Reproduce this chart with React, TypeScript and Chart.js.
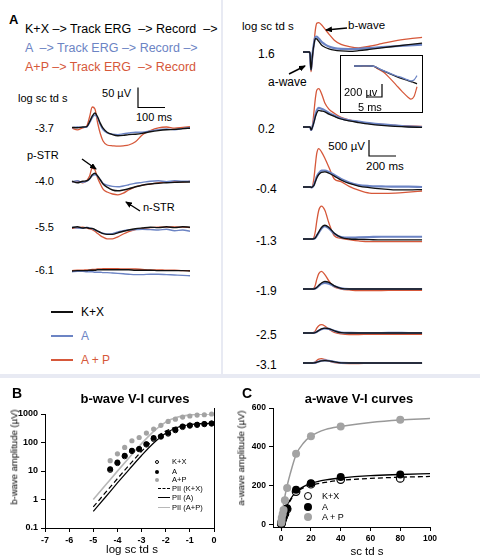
import React, { useEffect, useRef } from "react";
import { Chart, registerables } from "chart.js";

Chart.register(...registerables);

const FONT = '"Liberation Sans", Arial, Helvetica, sans-serif';
Chart.defaults.font.family = FONT;
Chart.defaults.color = "#000";

const COL_KX = "#111111";
const COL_A = "#6c84c4";
const COL_AP = "#d6583a";
const COL_GRAY = "#a3a3a3";
const COL_GRAY_LINE = "#b8b8b8";

// ---------------- Panel A, left column (dim flashes) ----------------
const T_LEFT = [0, 20, 40, 55, 65, 75, 85, 95, 105, 115, 130, 150, 170, 190, 210, 235, 260, 290, 320, 350, 380, 410, 437];
const LEFT_LABELS = ["-3.7", "-4.0", "-5.5", "-6.1"];
const L37_KX = [4, 3, 5, 6, 18, 32, 40, 30, 14, 2, -8, -14, -17, -16, -14, -13, -11, -7, -4, -2, -1, 1, 2];
const L37_A = [3, 5, 4, 5, 15, 28, 35, 27, 10, -2, -10, -13, -14, -12, -10, -8, -8, -5, -2, 0, -2, 1, 3];
const L37_AP = [2, -2, 3, 8, 30, 55, 50, 15, -12, -30, -40, -42, -43, -42, -40, -32, -15, -4, 3, 5, 2, 4, 6];
const L40_KX = [2, -2, 2, 3, 8, 18, 22, 15, 5, -5, -13, -20, -22, -20, -17, -12, -8, -5, -3, -2, -1, 0, 0];
const L40_A = [0, 3, -1, 2, 7, 15, 18, 14, 6, -3, -8, -11, -12, -10, -7, -3, -1, 2, 3, 1, 3, 2, 2];
const L40_AP = [0, 2, -2, 4, 15, 35, 30, 10, -5, -18, -25, -30, -32, -28, -20, -12, -8, -5, -2, 0, 1, 0, 2];
const L55_KX = [1, 3, 0, 1, -1, -1, -4, -8, -11, -14, -16, -16, -12, -8, -5, -2, 0, 2, 1, 3, 1, 3, 2];
const L55_A = [2, 0, -1, 2, 0, -2, -5, -8, -11, -13, -15, -14, -10, -7, -5, -4, -3, -4, -5, -3, -7, -5, -8];
const L55_AP = [-1, 1, 2, 0, -2, -4, -8, -14, -19, -23, -27, -27, -22, -15, -9, -4, -1, 1, 2, 2, 3, 2, 1];
const L61_KX = [0, 1, 1, 1, 2, 2, 2, 3, 3, 3, 3, 3, 3, 3, 3, 2, 2, 2, 1, 1, 1, 1, 0];
const L61_A = [-2, -1, -1, -2, -2, -2, -3, -3, -3, -4, -4, -5, -6, -7, -8, -9, -9, -8, -8, -9, -10, -11, -12];
const L61_AP = [1, 2, 2, 3, 3, 4, 4, 5, 5, 6, 6, 6, 6, 5, 5, 5, 4, 3, 3, 2, 2, 1, 1];

// ---------------- Panel A, right column (bright flashes) ----------------
const T_RIGHT = [-52, -5, 0, 5, 8, 12, 20, 30, 40, 50, 65, 85, 110, 140, 180, 230, 290, 360, 440, 530, 630, 730, 830];
const RIGHT_LABELS = ["1.6", "0.2", "-0.4", "-1.3", "-1.9", "-2.5", "-3.1"];
const R16_KX = [0, 0, -50, -450, -560, -400, -50, 250, 420, 410, 330, 220, 150, 100, 60, 35, 20, 40, 80, 130, 180, 230, 280];
const R16_A = [0, 0, -50, -430, -540, -380, -20, 280, 470, 480, 420, 320, 240, 170, 120, 95, 90, 100, 120, 150, 180, 205, 230];
const R16_AP = [0, 0, -60, -480, -615, -450, -100, 300, 700, 900, 920, 850, 720, 560, 370, 240, 170, 130, 180, 260, 350, 410, 455];
const R02_KX = [0, 0, 0, -50, -90, -70, 20, 160, 320, 440, 520, 500, 470, 400, 330, 250, 190, 140, 90, 50, 20, 0, -10];
const R02_A = [0, 0, 0, -50, -90, -70, 30, 200, 380, 520, 600, 570, 520, 440, 360, 270, 210, 170, 120, 80, 50, 20, 0];
const R02_AP = [0, 0, 0, -60, -100, -80, 100, 500, 900, 1150, 1200, 1050, 750, 560, 430, 300, 220, 160, 115, 80, 50, 35, 20];
const R04_KX = [0, 0, 0, 0, -10, -10, 10, 60, 170, 280, 390, 460, 470, 430, 340, 220, 110, 30, -20, -60, -90, -90, -80];
const R04_A = [0, 0, 0, 0, -10, -10, 10, 80, 200, 320, 430, 510, 510, 470, 380, 250, 140, 60, 30, 20, 10, 10, 0];
const R04_AP = [0, 0, 0, 0, -20, -20, 50, 300, 700, 1050, 1200, 1100, 900, 620, 250, 170, 20, -100, -190, -200, -190, -160, -125];
const R13_KX = [0, 0, 0, 0, 0, 0, 0, 10, 40, 110, 220, 360, 430, 360, 180, 50, 0, -10, -20, -30, -30, -30, -30];
const R13_A = [0, 0, 0, 0, 0, 0, 0, 10, 40, 100, 200, 330, 400, 330, 170, 60, 40, 50, 60, 70, 70, 70, 70];
const R13_AP = [0, 0, 0, 0, 0, 0, 0, 60, 250, 550, 900, 1030, 900, 500, 100, 20, -20, -60, -85, -85, -85, -85, -85];
const R19_KX = [0, 0, 0, 0, 0, 0, 0, 5, 20, 50, 110, 190, 235, 210, 100, 20, 0, 0, 0, 0, 0, 0, 0];
const R19_A = [0, 0, 0, 0, 0, 0, 0, 5, 15, 40, 95, 160, 190, 165, 90, 20, 0, 0, 0, 0, 0, 0, 0];
const R19_AP = [0, 0, 0, 0, 0, 0, 0, 30, 130, 300, 480, 550, 450, 250, 60, 0, -30, -50, -50, -50, -40, -40, -40];
const R25_KX = [0, 0, 0, 0, 0, 0, 0, 5, 15, 40, 80, 130, 155, 140, 70, 10, 0, 0, 0, 0, 0, 0, 0];
const R25_A = [0, 0, 0, 0, 0, 0, 0, 5, 15, 35, 75, 120, 140, 130, 70, 15, 5, 0, 0, 0, 5, 0, 0];
const R25_AP = [0, 0, 0, 0, 0, 0, 0, 20, 70, 150, 230, 260, 220, 120, 20, -30, -50, -50, -40, -40, -40, -40, -40];
const R31_KX = [0, 0, 0, 0, 0, 0, 0, 3, 10, 25, 45, 65, 75, 65, 35, 5, 0, 0, 0, 0, 0, 0, 0];
const R31_A = [0, 0, 0, 0, 0, 0, 0, 3, 10, 25, 45, 70, 80, 70, 35, 5, 0, 0, 0, 0, 0, 0, 0];
const R31_AP = [0, 0, 0, 0, 0, 0, 0, 10, 40, 80, 120, 135, 110, 60, 10, -10, -15, -15, -10, -10, -10, -10, -10];

// ---------------- Inset (a-wave leading edge, ms / µV) ----------------
const T_INSET = [-6, -4, -2, 0, 1, 2, 4, 6, 8, 10, 12, 13, 14, 15];
const IN_KX = [0, 0, 2, 0, -10, -35, -80, -120, -160, -195, -225, -240, -255, -275];
const IN_A = [0, 0, 1, 0, -10, -33, -75, -115, -150, -180, -215, -230, -215, -150];
const IN_AP = [0, 0, 2, 0, -15, -45, -100, -190, -290, -390, -480, -510, -470, -320];

// ---------------- Panel B (b-wave V-I) ----------------
const B_X = [-4.3, -4.0, -3.7, -3.4, -3.1, -2.8, -2.5, -2.2, -1.9, -1.6, -1.3, -1.0, -0.7, -0.4, -0.1];
const B_KX = [11, 19, 33, 50, 58, 85, 135, 160, 205, 270, 350, 390, 415, 440, 460];
const B_A = [11.7, 20, 35, 52, 60, 88, 145, 165, 215, 280, 370, 400, 425, 450, 470];
const B_AP = [23, 40, 67, 115, 150, 215, 295, 400, 550, 660, 780, 850, 920, 940, 1000];
const B_FIT_X = [-5, -4.5, -4, -3.5, -3, -2.5, -2, -1.5, -1, -0.5, 0];
const B_FIT_KX = [0.55, 1.73, 5.4, 16.5, 49, 126, 251, 363, 425, 450, 456];
const B_FIT_A = [0.38, 1.2, 3.8, 11.7, 35, 96, 213, 343, 426, 462, 474];
const B_FIT_AP = [1.0, 3.15, 9.9, 30.5, 91, 245, 520, 780, 920, 980, 1000];
const B_X_TICKS = [-7, -6, -5, -4, -3, -2, -1, 0];
const B_Y_TICKS = [0.1, 1, 10, 100, 1000];

// ---------------- Panel C (a-wave V-I) ----------------
const C_X = [0.1, 0.25, 0.4, 1, 1.6, 2.5, 4, 10, 20, 40, 80];
const C_KX = [4, 8, 13, 27, 40, 55, 80, 170, 208, 232, 238];
const C_A = [5, 10, 15, 30, 45, 60, 85, 180, 213, 245, 258];
const C_AP = [10, 20, 35, 55, 75, 125, 188, 365, 455, 505, 540];
const C_FIT_X = [0, 1, 2, 4, 6, 10, 15, 20, 30, 40, 60, 80, 100];
const C_FIT_KX = [0, 33, 58, 95, 122, 165, 190, 203, 218, 228, 238, 244, 248];
const C_FIT_A = [0, 35, 62, 100, 128, 170, 196, 212, 230, 240, 252, 258, 263];
const C_FIT_AP = [0, 70, 125, 200, 260, 360, 420, 455, 490, 505, 525, 538, 546];
const C_X_TICKS = [0, 20, 40, 60, 80, 100];
const C_Y_TICKS = [0, 200, 400, 600];

// ---------------- layout (pixels) ----------------
type Box = { left: number; top: number; width: number; height: number; x0px: number; y0px: number; pxPerMs: number; uvPerPx: number };
const LEFT_BOX: Box = { left: 62, top: 80, width: 138, height: 210, x0px: 72, y0px: 290, pxPerMs: 0.27, uvPerPx: 2.5 };
const LEFT_ROW_Y = [129, 182, 228, 271];
const RIGHT_BOX: Box = { left: 295, top: 10, width: 135, height: 365, x0px: 310, y0px: 375, pxPerMs: 0.135, uvPerPx: 31.25 };
const RIGHT_ROW_Y = [52, 127, 187, 239, 289, 333, 363];
const INSET_BOX: Box = { left: 341, top: 56, width: 81, height: 56, x0px: 372, y0px: 66, pxPerMs: 3, uvPerPx: 15.4 };

const toX = (b: Box, px: number) => (px - b.x0px) / b.pxPerMs;
const toY = (b: Box, py: number) => (b.y0px - py) * b.uvPerPx;

const baseOptions: any = {
  responsive: false,
  maintainAspectRatio: false,
  animation: false,
  events: [],
  plugins: { legend: { display: false }, tooltip: { enabled: false }, title: { display: false } },
};

type Row = { kx: number[]; a: number[]; ap: number[] };
type Bar = { ax: number; ay: number; uv: number; ms: number; dir: number };

function traceConfig(
  box: Box,
  t: number[],
  rows: Row[],
  rowY: number[] | null,
  order: Record<string, number>,
  bar: Bar | null,
  widths: Record<string, number>
) {
  const datasets: any[] = [];
  const series = [
    { key: "ap", color: COL_AP },
    { key: "a", color: COL_A },
    { key: "kx", color: COL_KX },
  ];
  rows.forEach((row: any, r) => {
    const off = rowY ? toY(box, rowY[r]) : 0;
    series.forEach((s) => {
      datasets.push({
        data: t.map((tt, i) => ({ x: tt, y: row[s.key][i] + off })),
        borderColor: s.color,
        borderWidth: widths[s.key],
        pointRadius: 0,
        cubicInterpolationMode: "monotone",
        fill: false,
        order: order[s.key],
      });
    });
  });
  if (bar) {
    const x = toX(box, bar.ax);
    const y = toY(box, bar.ay);
    datasets.push({
      data: [
        { x, y: y + bar.uv },
        { x, y },
        { x: x + bar.dir * bar.ms, y },
      ],
      borderColor: "#000",
      borderWidth: 1.2,
      pointRadius: 0,
      tension: 0,
      fill: false,
      order: -1,
    });
  }
  return {
    type: "line",
    data: { datasets },
    options: {
      ...baseOptions,
      layout: { padding: 0 },
      scales: {
        x: { type: "linear", display: false, min: toX(box, box.left), max: toX(box, box.left + box.width) },
        y: { type: "linear", display: false, min: toY(box, box.top + box.height), max: toY(box, box.top) },
      },
    },
  };
}

function axis(ticksArr: number[], fontSize: number, fit: (s: any) => void) {
  return {
    afterBuildTicks: (s: any) => {
      s.ticks = ticksArr.map((v) => ({ value: v }));
    },
    afterFit: fit,
    ticks: {
      font: { family: FONT, size: fontSize, weight: "bold" },
      color: "#000",
      padding: 3,
      autoSkip: false,
      maxRotation: 0,
      callback: (v: any) => String(v),
    },
    grid: { drawOnChartArea: false, drawTicks: true, tickLength: 4, color: "#000", lineWidth: 1 },
    border: { display: true, color: "#000", width: 1 },
  };
}

const rightBorder = {
  id: "rightBorder",
  afterDraw(chart: any) {
    const { ctx, chartArea: a } = chart;
    ctx.save();
    ctx.strokeStyle = "#000";
    ctx.lineWidth = 1;
    ctx.beginPath();
    ctx.moveTo(Math.round(a.right) + 0.5, a.top - 6);
    ctx.lineTo(Math.round(a.right) + 0.5, a.bottom);
    ctx.stroke();
    ctx.restore();
  },
};

const pts = (xs: number[], ys: number[]) => xs.map((x, i) => ({ x, y: ys[i] }));

function bConfig() {
  return {
    type: "scatter",
    data: {
      datasets: [
        { data: pts(B_X, B_AP), pointRadius: 2.6, backgroundColor: COL_GRAY, borderColor: COL_GRAY, pointBorderWidth: 0, order: 0, clip: false },
        { data: pts(B_X, B_A), pointRadius: 2.8, backgroundColor: "#000", borderColor: "#000", pointBorderWidth: 0, order: 1, clip: false },
        { data: pts(B_X, B_KX), pointRadius: 2.6, backgroundColor: "#fff", borderColor: "#000", pointBorderWidth: 1, order: 2, clip: false },
        { data: pts(B_FIT_X, B_FIT_AP), showLine: true, pointRadius: 0, borderColor: COL_GRAY_LINE, borderWidth: 1.6, cubicInterpolationMode: "monotone", order: 3 },
        { data: pts(B_FIT_X, B_FIT_A), showLine: true, pointRadius: 0, borderColor: "#000", borderWidth: 1.2, cubicInterpolationMode: "monotone", order: 4 },
        { data: pts(B_FIT_X, B_FIT_KX), showLine: true, pointRadius: 0, borderColor: "#000", borderWidth: 1.2, borderDash: [5, 3], cubicInterpolationMode: "monotone", order: 5 },
      ],
    },
    options: {
      ...baseOptions,
      layout: { padding: { left: 0, top: 14, right: 6, bottom: 0 } },
      scales: {
        x: { type: "linear", min: -7, max: 0, ...axis(B_X_TICKS, 9, (s: any) => { s.height = 31; }) },
        y: { type: "logarithmic", min: 0.1, max: 1000, ...axis(B_Y_TICKS, 9, (s: any) => { s.width = 45; }) },
      },
    },
    plugins: [rightBorder],
  };
}

function cConfig() {
  return {
    type: "scatter",
    data: {
      datasets: [
        { data: pts(C_X, C_AP), pointRadius: 4, backgroundColor: COL_GRAY, borderColor: COL_GRAY, pointBorderWidth: 0, order: 0, clip: false },
        { data: pts(C_X, C_A), pointRadius: 4, backgroundColor: "#000", borderColor: "#000", pointBorderWidth: 0, order: 1, clip: false },
        { data: pts(C_X, C_KX), pointRadius: 3.8, backgroundColor: "#fff", borderColor: "#000", pointBorderWidth: 1.2, order: 2, clip: false },
        { data: pts(C_FIT_X, C_FIT_AP), showLine: true, pointRadius: 0, borderColor: "#999", borderWidth: 1.5, cubicInterpolationMode: "monotone", order: 3 },
        { data: pts(C_FIT_X, C_FIT_A), showLine: true, pointRadius: 0, borderColor: "#000", borderWidth: 1.3, cubicInterpolationMode: "monotone", order: 4 },
        { data: pts(C_FIT_X, C_FIT_KX), showLine: true, pointRadius: 0, borderColor: "#000", borderWidth: 1.3, borderDash: [5, 3], cubicInterpolationMode: "monotone", order: 5 },
      ],
    },
    options: {
      ...baseOptions,
      layout: { padding: { left: 0, top: 13, right: 50, bottom: 0 } },
      scales: {
        x: { type: "linear", min: -5.5, max: 100, ...axis(C_X_TICKS, 8.5, (s: any) => { s.height = 32; }) },
        y: { type: "linear", min: -12, max: 600, ...axis(C_Y_TICKS, 8.5, (s: any) => { s.width = 43; }) },
      },
    },
  };
}

function ChartCanvas({ left, top, width, height, make }: { left: number; top: number; width: number; height: number; make: () => any }) {
  const ref = useRef<HTMLCanvasElement>(null);
  useEffect(() => {
    const chart = new Chart(ref.current as HTMLCanvasElement, make());
    return () => chart.destroy();
  }, []);
  return <canvas ref={ref} width={width} height={height} style={{ position: "absolute", left, top, width, height }} />;
}

function Txt({ x, y, children, size = 11, color = "#000", bold = false, align = "left", rotate = false }: any) {
  const tx = align === "center" ? "-50%" : align === "right" ? "-100%" : "0";
  return (
    <div
      style={{
        position: "absolute",
        left: x,
        top: y,
        transform: rotate ? "translate(-50%,-50%) rotate(-90deg)" : `translate(${tx},-50%)`,
        fontFamily: FONT,
        fontSize: size,
        fontWeight: bold ? "bold" : "normal",
        color,
        whiteSpace: "pre",
        lineHeight: 1,
      }}
    >
      {children}
    </div>
  );
}

const LEFT_ROWS: Row[] = [
  { kx: L37_KX, a: L37_A, ap: L37_AP },
  { kx: L40_KX, a: L40_A, ap: L40_AP },
  { kx: L55_KX, a: L55_A, ap: L55_AP },
  { kx: L61_KX, a: L61_A, ap: L61_AP },
];
const RIGHT_ROWS: Row[] = [
  { kx: R16_KX, a: R16_A, ap: R16_AP },
  { kx: R02_KX, a: R02_A, ap: R02_AP },
  { kx: R04_KX, a: R04_A, ap: R04_AP },
  { kx: R13_KX, a: R13_A, ap: R13_AP },
  { kx: R19_KX, a: R19_A, ap: R19_AP },
  { kx: R25_KX, a: R25_A, ap: R25_AP },
  { kx: R31_KX, a: R31_A, ap: R31_AP },
];

const ARROWS = [
  { x1: 82, y1: 159, x2: 96, y2: 169 },
  { x1: 140, y1: 211, x2: 126, y2: 202 },
  { x1: 347, y1: 28, x2: 326, y2: 30 },
  { x1: 289, y1: 74, x2: 305, y2: 66 },
];

export default function App() {
  return (
    <div style={{ position: "absolute", left: 0, top: 0, width: 480, height: 559, background: "#fff", overflow: "hidden" }}>
      {/* dividers */}
      <div style={{ position: "absolute", left: 221, top: 0, width: 2, height: 374, background: "#e8eaf3" }} />
      <div style={{ position: "absolute", left: 0, top: 374, width: 480, height: 4, background: "#e8eaf3" }} />

      {/* Panel A left */}
      <Txt x={9} y={19} size={13} bold>A</Txt>
      <Txt x={25} y={29} size={12.5}>{"K+X –> Track ERG  –> Record  –>"}</Txt>
      <Txt x={25} y={48} size={12.5} color={COL_A}>{"A  –> Track ERG –> Record –>"}</Txt>
      <Txt x={25} y={67} size={12.5} color={COL_AP}>{"A+P –> Track ERG  –> Record"}</Txt>
      <Txt x={18} y={98} size={11}>log sc td s</Txt>
      <Txt x={131} y={93} size={11} align="right">50 µV</Txt>
      <Txt x={136} y={117} size={11}>100 ms</Txt>
      {LEFT_LABELS.map((l, i) => (
        <Txt key={l} x={35} y={LEFT_ROW_Y[i] - 1} size={11}>{l}</Txt>
      ))}
      <Txt x={27} y={155} size={11}>p-STR</Txt>
      <Txt x={143} y={207} size={11}>n-STR</Txt>
      <ChartCanvas
        left={LEFT_BOX.left}
        top={LEFT_BOX.top}
        width={LEFT_BOX.width}
        height={LEFT_BOX.height}
        make={() =>
          traceConfig(LEFT_BOX, T_LEFT, LEFT_ROWS, LEFT_ROW_Y, { kx: 0, a: 1, ap: 2 }, { ax: 138, ay: 107.5, uv: 50, ms: 100, dir: 1 }, { kx: 1.4, a: 1.4, ap: 1.3 })
        }
      />
      {[
        { c: COL_KX, t: "K+X", y: 312 },
        { c: COL_A, t: "A", y: 336 },
        { c: COL_AP, t: "A + P", y: 360 },
      ].map((l) => (
        <React.Fragment key={l.t}>
          <div style={{ position: "absolute", left: 51, top: l.y - 1, width: 22, height: 2, background: l.c }} />
          <Txt x={81} y={l.y} size={12} color={l.c === COL_KX ? "#000" : l.c}>{l.t}</Txt>
        </React.Fragment>
      ))}

      {/* Panel A right */}
      <Txt x={242} y={27} size={11.5}>log sc td s</Txt>
      <Txt x={348} y={26} size={11.5}>b-wave</Txt>
      <Txt x={268} y={82} size={12}>a-wave</Txt>
      {RIGHT_LABELS.map((l, i) => (
        <Txt key={l} x={l.startsWith("-") ? 256 : 258} y={RIGHT_ROW_Y[i] + 2} size={12}>{l}</Txt>
      ))}
      <Txt x={365} y={147} size={11.5} align="right">500 µV</Txt>
      <Txt x={366} y={167} size={11.5}>200 ms</Txt>
      <ChartCanvas
        left={RIGHT_BOX.left}
        top={RIGHT_BOX.top}
        width={RIGHT_BOX.width}
        height={RIGHT_BOX.height}
        make={() =>
          traceConfig(RIGHT_BOX, T_RIGHT, RIGHT_ROWS, RIGHT_ROW_Y, { kx: 0, a: 1, ap: 2 }, { ax: 369, ay: 156, uv: 500, ms: 200, dir: 1 }, { kx: 1.3, a: 2.2, ap: 1.3 })
        }
      />
      <div style={{ position: "absolute", left: 340, top: 55, width: 81, height: 56, border: "1px solid #000", background: "#fff" }} />
      <ChartCanvas
        left={INSET_BOX.left}
        top={INSET_BOX.top}
        width={INSET_BOX.width}
        height={INSET_BOX.height}
        make={() =>
          traceConfig(INSET_BOX, T_INSET, [{ kx: IN_KX, a: IN_A, ap: IN_AP }], null, { kx: 1, a: 0, ap: 2 }, { ax: 382, ay: 97, uv: 200, ms: 5, dir: -1 }, { kx: 1.3, a: 1.3, ap: 1.2 })
        }
      />
      <Txt x={344} y={92} size={11}>200 µv</Txt>
      <Txt x={358} y={107} size={11}>5 ms</Txt>

      {/* arrows */}
      <svg width={480} height={559} style={{ position: "absolute", left: 0, top: 0, pointerEvents: "none" }}>
        <defs>
          <marker id="ah" markerWidth="7" markerHeight="6" refX="6" refY="3" orient="auto" markerUnits="userSpaceOnUse">
            <path d="M0,0 L7,3 L0,6 z" fill="#000" />
          </marker>
        </defs>
        {ARROWS.map((a, i) => (
          <line key={i} x1={a.x1} y1={a.y1} x2={a.x2} y2={a.y2} stroke="#000" strokeWidth={1.4} markerEnd="url(#ah)" />
        ))}
      </svg>

      {/* Panel B */}
      <Txt x={12} y={393} size={14} bold>B</Txt>
      <Txt x={135} y={398} size={13} bold align="center">b-wave V-I curves</Txt>
      <ChartCanvas left={0} top={400} width={220} height={159} make={bConfig} />
      <Txt x={14} y={457} size={9.5} rotate>b-wave amplitude (µV)</Txt>
      <Txt x={132} y={550} size={11.5} align="center">log sc td s</Txt>
      {[
        { y: 462, t: "K+X", m: "open" },
        { y: 472, t: "A", m: "black" },
        { y: 480, t: "A+P", m: "gray" },
      ].map((l) => (
        <React.Fragment key={l.t}>
          <div
            style={{
              position: "absolute",
              left: 155,
              top: l.y - 2,
              width: 4,
              height: 4,
              borderRadius: "50%",
              boxSizing: "border-box",
              background: l.m === "open" ? "#fff" : l.m === "black" ? "#000" : COL_GRAY,
              border: l.m === "open" ? "1px solid #000" : "none",
            }}
          />
          <Txt x={172} y={l.y} size={7.5}>{l.t}</Txt>
        </React.Fragment>
      ))}
      {[
        { y: 489, t: "PII (K+X)", s: "dashed", c: "#000" },
        { y: 498, t: "PII (A)", s: "solid", c: "#000" },
        { y: 508, t: "PII (A+P)", s: "solid", c: COL_GRAY_LINE },
      ].map((l) => (
        <React.Fragment key={l.t}>
          <div style={{ position: "absolute", left: 158, top: l.y - 1, width: 12, height: 0, borderTop: `1.5px ${l.s} ${l.c}` }} />
          <Txt x={172} y={l.y} size={7.5}>{l.t}</Txt>
        </React.Fragment>
      ))}

      {/* Panel C */}
      <Txt x={242} y={393} size={14} bold>C</Txt>
      <Txt x={359} y={398} size={13} bold align="center">a-wave V-I curves</Txt>
      <ChartCanvas left={230} top={395} width={250} height={164} make={cConfig} />
      <Txt x={241} y={458} size={9.5} rotate>a-wave amplitude (µV)</Txt>
      <Txt x={367} y={552} size={11.5} align="center">sc td s</Txt>
      {[
        { y: 496, t: "K+X", m: "open" },
        { y: 506.5, t: "A", m: "black" },
        { y: 517, t: "A + P", m: "gray" },
      ].map((l) => (
        <React.Fragment key={l.t}>
          <div
            style={{
              position: "absolute",
              left: 304,
              top: l.y - 4,
              width: 8,
              height: 8,
              borderRadius: "50%",
              boxSizing: "border-box",
              background: l.m === "open" ? "#fff" : l.m === "black" ? "#000" : COL_GRAY,
              border: l.m === "open" ? "1.3px solid #000" : "none",
            }}
          />
          <Txt x={322} y={l.y} size={9}>{l.t}</Txt>
        </React.Fragment>
      ))}
    </div>
  );
}
